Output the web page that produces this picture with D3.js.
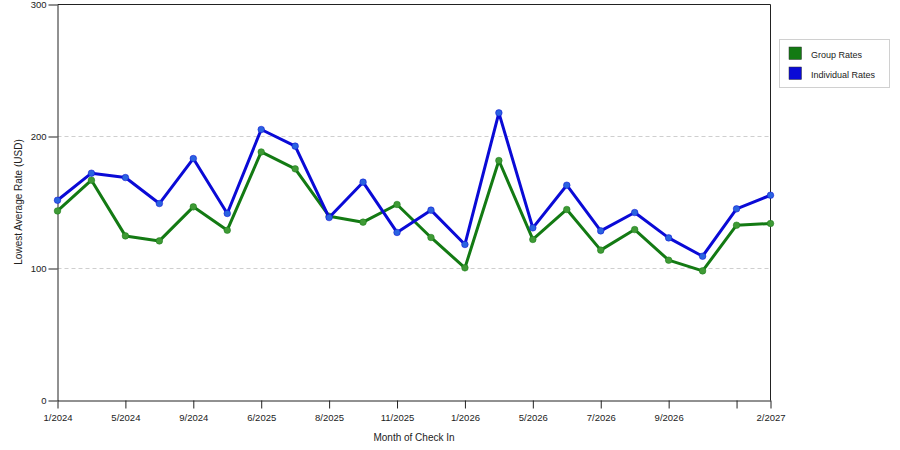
<!DOCTYPE html>
<html>
<head>
<meta charset="utf-8">
<script src="https://cdn.jsdelivr.net/npm/d3@7"></script>
<style>
  body { margin: 0; background: #fff; }
  text { font-family: "Liberation Sans", Arial, sans-serif; fill: #222; }
</style>
</head>
<body>
<div id="chart"></div>
<script>
// values, one per month on the axis
const groupRates = [143.6, 166.9, 124.7, 120.9, 146.7, 129.0, 188.3, 175.5, 139.6, 135.1, 148.5,
                    123.5, 100.5, 181.8, 122.0, 144.7, 113.9, 129.5, 106.3, 98.2, 132.8, 134.1]
const individualRates = [151.7, 172.2, 168.9, 149.2, 183.3, 141.7, 205.3, 192.7, 138.6, 165.4, 127.3,
                         144.2, 118.2, 217.9, 130.8, 163.1, 128.5, 142.4, 123.2, 109.3, 145.2, 155.5]
const tickIndex = [0, 2, 4, 6, 8, 10, 12, 14, 16, 18, 20, 21]
const tickLabels = ['1/2024', '5/2024', '9/2024', '6/2025', '8/2025', '11/2025',
                    '1/2026', '5/2026', '7/2026', '9/2026', '', '2/2027']
const yTicks = [0, 100, 200, 300]
const seriesNames = ['Group Rates', 'Individual Rates']
const seriesColors = ['#137a13', '#0a0ad6']
const markerColors = ['#3f9a35', '#2a63e0']

let width = 900
let height = 450
let plotL = 57.5, plotR = 770.5, plotT = 4.5, plotB = 400.5

let svg = d3.select('#chart')
  .append('svg')
    .attr('width', width)
    .attr('height', height)

let x = d3.scalePoint().domain(d3.range(groupRates.length)).range([plotL, plotR])
let y = d3.scaleLinear().domain([0, 300]).range([plotB, plotT])

// dashed grid
svg.append('g')
  .selectAll('line')
  .data(yTicks.filter(d => d > 0 && d < 300))
  .enter().append('line')
    .attr('x1', plotL).attr('x2', plotR)
    .attr('y1', d => y(d)).attr('y2', d => y(d))
    .attr('stroke', '#cfcfcf')
    .attr('stroke-dasharray', '4,3')

// frame top and right
svg.append('path')
  .attr('d', `M${plotL},${plotT}H${plotR}V${plotB}`)
  .attr('fill', 'none')
  .attr('stroke', '#222')

let yAxis = svg.append('g')
  .attr('transform', `translate(${plotL},0)`)
  .call(d3.axisLeft(y).tickValues(yTicks).tickSize(9).tickSizeOuter(0).tickPadding(2))
yAxis.selectAll('text').style('font-size', '9.5px')

let labelOf = {}
tickIndex.forEach((d, i) => labelOf[d] = tickLabels[i])
let xAxis = svg.append('g')
  .attr('transform', `translate(0,${plotB})`)
  .call(d3.axisBottom(x).tickValues(tickIndex).tickFormat(d => labelOf[d]).tickSize(8).tickSizeOuter(0).tickPadding(6))
xAxis.selectAll('text').style('font-size', '9.5px')
svg.selectAll('.domain, .tick line').attr('stroke', '#222')

svg.append('text')
  .attr('x', 414).attr('y', 441)
  .attr('text-anchor', 'middle')
  .style('font-size', '10px')
  .text('Month of Check In')

svg.append('text')
  .attr('transform', 'translate(22,202) rotate(-90)')
  .attr('text-anchor', 'middle')
  .style('font-size', '10px')
  .text('Lowest Average Rate (USD)')

let line = d3.line().x((d, i) => x(i)).y(d => y(d))

;[groupRates, individualRates].forEach((data, k) => {
  svg.append('path')
    .datum(data)
    .attr('d', line)
    .attr('fill', 'none')
    .attr('stroke', seriesColors[k])
    .attr('stroke-width', 3)
    .attr('stroke-linejoin', 'round')

  svg.append('g')
    .selectAll('circle')
    .data(data)
    .enter().append('circle')
      .attr('cx', (d, i) => x(i))
      .attr('cy', d => y(d))
      .attr('r', 3.3)
      .attr('fill', markerColors[k])
      .attr('stroke', seriesColors[k])
      .attr('stroke-opacity', 0.5)
      .attr('stroke-width', 1)
})

// legend
let legend = svg.append('g')
legend.append('rect')
  .attr('x', 779.5).attr('y', 39.5)
  .attr('width', 110).attr('height', 48)
  .attr('fill', '#fff')
  .attr('stroke', '#d0d0d0')

let items = legend.selectAll('g.item')
  .data(seriesNames)
  .enter().append('g')
    .attr('transform', (d, i) => `translate(789,${47 + i * 20})`)
items.append('rect')
  .attr('width', 12.5).attr('height', 12.5)
  .attr('fill', (d, i) => seriesColors[i])
  .attr('stroke', '#333')
  .attr('stroke-width', 0.5)
items.append('text')
  .attr('x', 22).attr('y', 10.5)
  .style('font-size', '9px')
  .text(d => d)
</script>
</body>
</html>
